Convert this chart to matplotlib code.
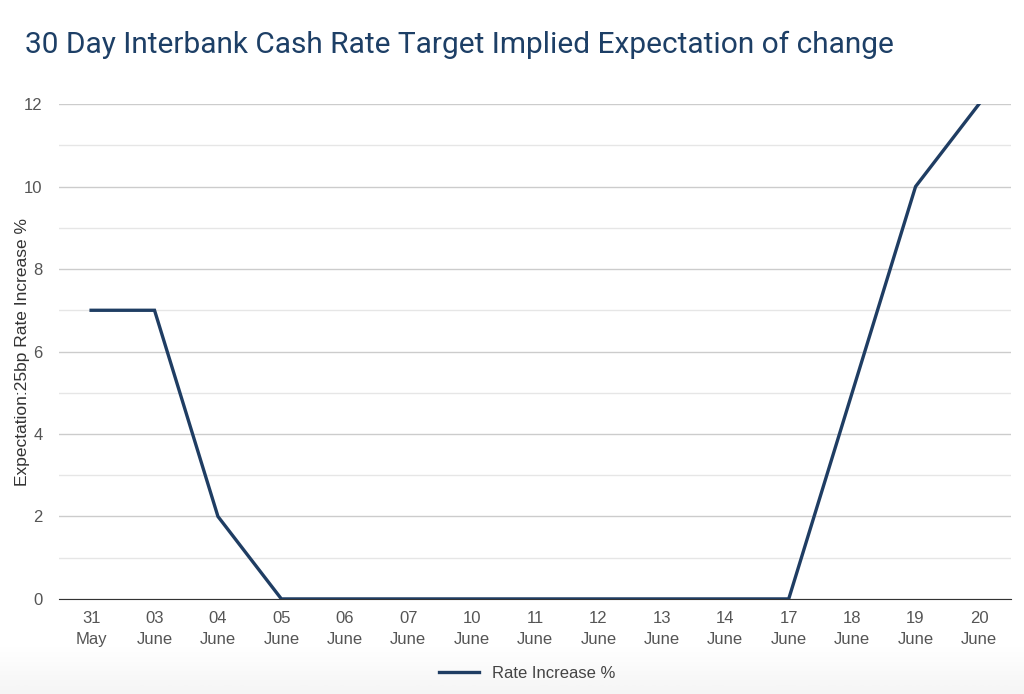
import numpy as np
import matplotlib.pyplot as plt
from matplotlib.lines import Line2D

plt.rcParams['font.family'] = ['Liberation Sans', 'DejaVu Sans']

dates = ["31\nMay", "03\nJune", "04\nJune", "05\nJune", "06\nJune", "07\nJune", "10\nJune",
         "11\nJune", "12\nJune", "13\nJune", "14\nJune", "17\nJune", "18\nJune", "19\nJune", "20\nJune"]
rate_increase = [7, 7, 2, 0, 0, 0, 0, 0, 0, 0, 0, 0, 5, 10, 12]

navy = "#1f3d63"

fig = plt.figure(figsize=(10.24, 6.94), dpi=100)

# light grey fade at the bottom of the picture
bg = fig.add_axes([0, 0, 1, 0.07], zorder=-10)
grad = np.linspace(0, 1, 50).reshape(-1, 1)
bg.imshow(grad, aspect="auto", cmap="Greys", vmin=0, vmax=12, extent=[0, 1, 0, 1], origin="upper")
bg.set_axis_off()

ax = fig.add_axes([0.058, 0.137, 0.929, 0.713])
x = np.arange(len(dates))
ax.plot(x, rate_increase, color=navy, linewidth=2.4, solid_joinstyle="miter", zorder=3)

ax.set_xlim(-0.5, len(dates) - 0.5)
ax.set_ylim(0, 12)
ax.set_yticks(range(0, 13, 2))
ax.set_yticks(range(1, 12, 2), minor=True)
ax.grid(axis="y", which="major", color="#cccccc", linewidth=1)
ax.grid(axis="y", which="minor", color="#e6e6e6", linewidth=1)
ax.set_xticks(x)
ax.set_xticklabels(dates, linespacing=1.5)
for s in ["top", "right", "left"]:
    ax.spines[s].set_visible(False)
ax.spines["bottom"].set_color("#333333")
ax.tick_params(axis="x", length=0, pad=9, labelsize=12, colors="#555555")
ax.tick_params(axis="y", which="both", length=0, pad=12, labelsize=12, colors="#555555")
ax.set_ylabel("Expectation:25bp Rate Increase %", fontsize=12.5, color="#333333")
ax.yaxis.set_label_coords(-0.031, 0.5)

fig.text(0.024, 0.935, "30 Day Interbank Cash Rate Target Implied Expectation of change",
         fontsize=21.5, color="#1d3f66", family=["Roboto", "DejaVu Sans"], va="center")

handle = Line2D([], [], color=navy, linewidth=2.4)
fig.legend([handle], ["Rate Increase %"], loc="center", bbox_to_anchor=(0.515, 0.03),
           frameon=False, fontsize=12, labelcolor="#444444", handlelength=2.4)

fig.savefig("out.png", dpi=100)
